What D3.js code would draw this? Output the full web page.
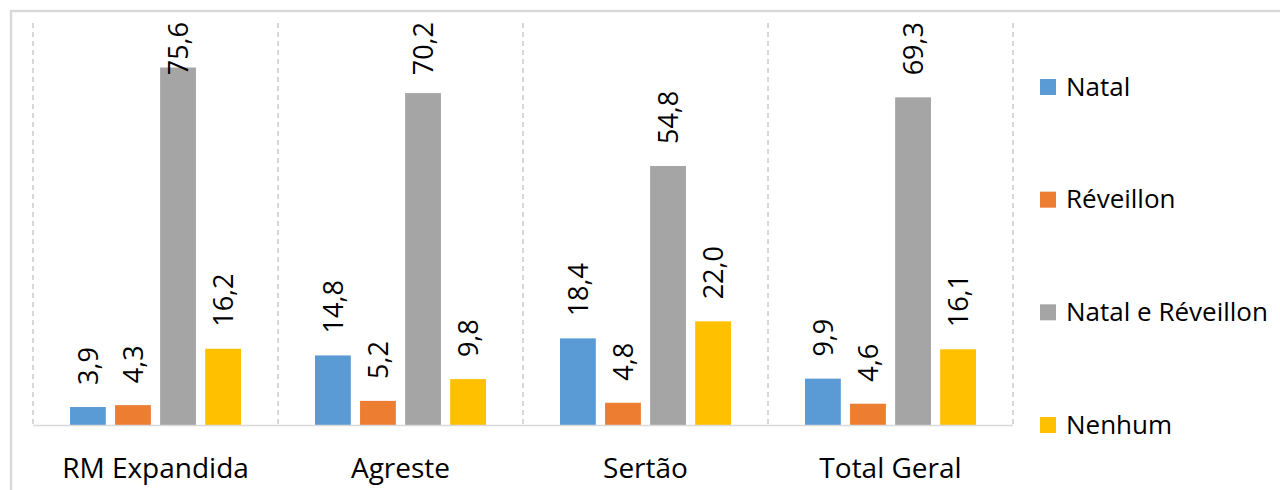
<!DOCTYPE html>
<html>
<head>
<meta charset="UTF-8">
<title>Natal e Réveillon</title>
<script src="https://d3js.org/d3.v7.min.js"></script>
<style>
  body { margin: 0; background: #fff; font-family: "Open Sans", sans-serif; }
  svg { display: block; }
</style>
</head>
<body>
<svg></svg>
<script>
const regions = ["RM Expandida", "Agreste", "Sertão", "Total Geral"];
const seriesNames = ["Natal", "Réveillon", "Natal e Réveillon", "Nenhum"];
const natal = [3.9, 14.8, 18.4, 9.9];
const reveillon = [4.3, 5.2, 4.8, 4.6];
const ambos = [75.6, 70.2, 54.8, 69.3];
const nenhum = [16.2, 9.8, 22.0, 16.1];
const seriesValues = [natal, reveillon, ambos, nenhum];
const colors = ["#5b9bd5", "#ed7d31", "#a5a5a5", "#ffc000"];

const width = 1280, height = 490;
const svg = d3.select("svg").attr("width", width).attr("height", height);

// outer frame (only left and top edges show in the picture)
svg.append("path")
  .attr("d", `M11,${height} V11 H${width}`)
  .attr("fill", "none")
  .attr("stroke", "#d9d9d9")
  .attr("stroke-width", 2.5);

const plot = { left: 33, right: 1013, top: 23, bottom: 425.5 };

const x0 = d3.scaleBand().domain(regions).range([plot.left, plot.right]);
const x1 = d3.scaleBand().domain(seriesNames)
  .range([37, x0.bandwidth() - 37]).paddingInner(0.205);
const y = d3.scaleLinear().domain([0, 85]).range([plot.bottom, plot.top]);

// dashed category separators
const seps = regions.map(r => x0(r)).concat([plot.right]);
svg.append("g").selectAll("line").data(seps).join("line")
  .attr("x1", d => d).attr("x2", d => d)
  .attr("y1", plot.top).attr("y2", plot.bottom)
  .attr("stroke", "#b0b0b0").attr("stroke-width", 1)
  .attr("stroke-dasharray", "5,4");

const data = [];
regions.forEach((r, i) => {
  seriesNames.forEach((s, j) => {
    data.push({ region: r, series: s, value: seriesValues[j][i], color: colors[j] });
  });
});

const g = svg.append("g");
g.selectAll("rect").data(data).join("rect")
  .attr("x", d => x0(d.region) + x1(d.series))
  .attr("y", d => y(d.value))
  .attr("width", x1.bandwidth())
  .attr("height", d => y(0) - y(d.value))
  .attr("fill", d => d.color);

// value labels, rotated; pushed down when they would leave the chart top
const labels = g.selectAll("text").data(data).join("text")
  .attr("dy", "0.36em")
  .attr("font-size", 27)
  .attr("fill", "#000")
  .text(d => d3.format(".1f")(d.value).replace(".", ","));
labels.attr("transform", function(d) {
  const len = this.getComputedTextLength();
  const start = Math.max(y(d.value) - 22, 22 + len);
  return `translate(${x0(d.region) + x1(d.series) + x1.bandwidth() / 2},${start}) rotate(-90)`;
});

// baseline
svg.append("line")
  .attr("x1", plot.left).attr("x2", plot.right)
  .attr("y1", plot.bottom).attr("y2", plot.bottom)
  .attr("stroke", "#d9d9d9").attr("stroke-width", 1.5);

// category axis
const xAxis = svg.append("g")
  .attr("transform", `translate(0,${plot.bottom})`)
  .call(d3.axisBottom(x0).tickSize(0).tickPadding(0));
xAxis.select(".domain").remove();
xAxis.selectAll("text")
  .attr("y", 52.5)
  .attr("dy", null)
  .attr("font-size", 28)
  .attr("font-family", "Open Sans, sans-serif")
  .attr("fill", "#000");

// legend
const legendY = d3.scalePoint().domain(seriesNames).range([87, 425]);
const legend = svg.append("g").selectAll("g").data(seriesNames).join("g")
  .attr("transform", d => `translate(1040,${legendY(d)})`);
legend.append("rect")
  .attr("x", 0).attr("y", -8)
  .attr("width", 16).attr("height", 16)
  .attr("fill", (d, i) => colors[i]);
legend.append("text")
  .attr("x", 26).attr("y", 8.5)
  .attr("font-size", 26)
  .attr("fill", "#000")
  .text(d => d);
</script>
</body>
</html>
